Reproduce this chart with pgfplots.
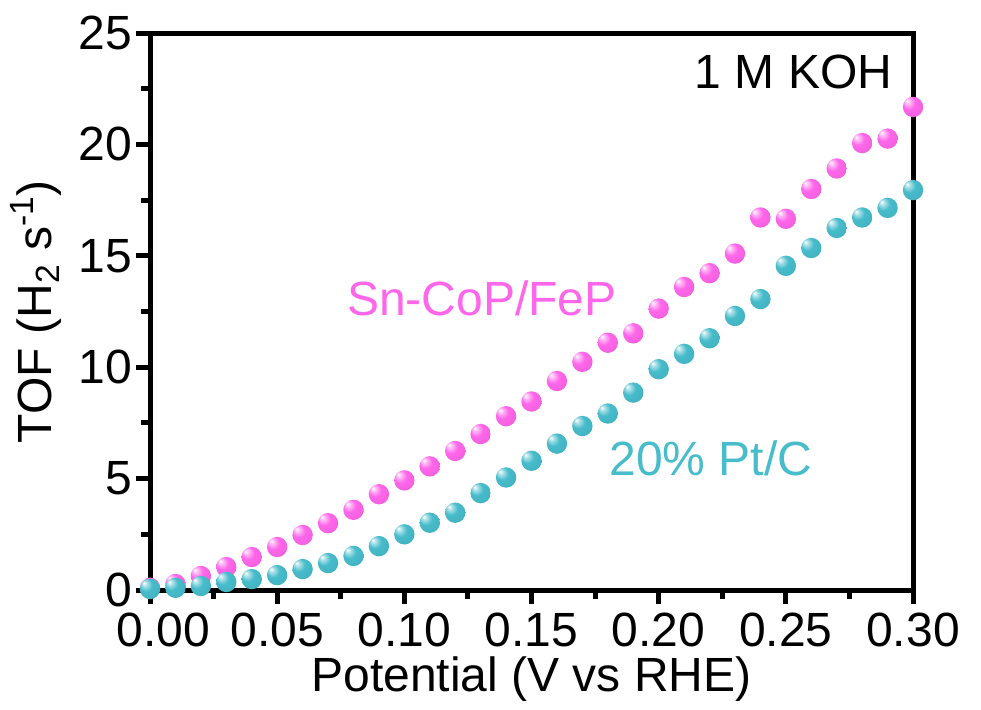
\documentclass[border=0pt]{standalone}
\usepackage{pgfplots}
\pgfplotsset{compat=1.18}
\usepackage{fontspec}
\setmainfont{Liberation Sans}
\definecolor{cmag}{HTML}{FF66EA}
\definecolor{ccyan}{HTML}{47BCCB}
\pgfdeclareradialshading{ballmag}{\pgfqpoint{-15bp}{15bp}}{color(0bp)=(white); color(6bp)=(cmag!45!white); color(16bp)=(cmag); color(40bp)=(cmag!92!black); color(50bp)=(cmag!85!black)}
\pgfdeclareradialshading{ballcyan}{\pgfqpoint{-15bp}{15bp}}{color(0bp)=(white); color(6bp)=(ccyan!45!white); color(16bp)=(ccyan); color(40bp)=(ccyan!92!black); color(50bp)=(ccyan!85!black)}
\pgfdeclareplotmark{bmag}{\pgfpathcircle{\pgfpointorigin}{\pgfplotmarksize}\pgfshadepath{ballmag}{0}\pgfusepath{discard}}
\pgfdeclareplotmark{bcyan}{\pgfpathcircle{\pgfpointorigin}{\pgfplotmarksize}\pgfshadepath{ballcyan}{0}\pgfusepath{discard}}
\begin{document}
\begin{tikzpicture}
\begin{axis}[
  name=ax,
  scale only axis,
  width=381.5pt, height=278.5pt,
  xmin=0, xmax=0.30, ymin=0, ymax=25,
  xtick={0,0.05,0.10,0.15,0.20,0.25,0.30}, ytick={0,5,...,25},
  xticklabels={\hphantom{0}0.00, 0.05, 0.10, 0.15, 0.20, 0.25, 0.30},
  minor tick num=1,
  xtick pos=bottom, ytick pos=left,
  tick align=outside,
  major tick length=5.5pt, minor tick length=3pt,
  axis line style={line width=2.5pt},
  every tick/.style={line width=2.5pt, black},
  line cap=rect,
  clip=false,
  font=\fontsize{24}{28}\selectfont,
  tick label style={font=\fontsize{24}{28}\selectfont},
  /pgf/number format/assume math mode=true,
  xticklabel style={yshift=-2.5pt},
  yticklabel style={/pgf/number format/.cd, fixed},
  xlabel={Potential (V vs RHE)},
  ylabel={TOF (H\textsubscript{2} s\textsuperscript{-1})},
  ylabel style={at={(axis description cs:-0.149,0.5)}, anchor=center},
  xlabel style={at={(axis description cs:0.5,0)}, anchor=north, yshift=-30pt},
]
\addplot[only marks, mark=bmag, mark size=5.1pt] coordinates {
(0.00,0.10) (0.01,0.27) (0.02,0.63) (0.03,1.03) (0.04,1.48) (0.05,1.93)
(0.06,2.47) (0.07,3.00) (0.08,3.60) (0.09,4.30) (0.10,4.92) (0.11,5.55)
(0.12,6.24) (0.13,7.00) (0.14,7.80) (0.15,8.46) (0.16,9.38) (0.17,10.24)
(0.18,11.10) (0.19,11.52) (0.20,12.63) (0.21,13.60) (0.22,14.22) (0.23,15.10)
(0.24,16.72) (0.25,16.66) (0.26,18.00) (0.27,18.92) (0.28,20.06) (0.29,20.26)
(0.30,21.68)
};
\addplot[only marks, mark=bcyan, mark size=5.1pt] coordinates {
(0.00,0.05) (0.01,0.10) (0.02,0.18) (0.03,0.36) (0.04,0.49) (0.05,0.67)
(0.06,0.94) (0.07,1.21) (0.08,1.53) (0.09,1.97) (0.10,2.50) (0.11,3.02)
(0.12,3.47) (0.13,4.35) (0.14,5.05) (0.15,5.80) (0.16,6.57) (0.17,7.36)
(0.18,7.92) (0.19,8.86) (0.20,9.91) (0.21,10.60) (0.22,11.30) (0.23,12.30)
(0.24,13.06) (0.25,14.55) (0.26,15.35) (0.27,16.25) (0.28,16.72) (0.29,17.15)
(0.30,17.95)
};
\node[text=cmag, anchor=center, font=\fontsize{24}{28}\selectfont] at (axis cs:0.1305,13.1) {Sn-CoP/FeP};
\node[text=ccyan, anchor=center, font=\fontsize{24}{28}\selectfont] at (axis cs:0.2205,5.92) {20\% Pt/C};
\node[text=black, anchor=east, font=\fontsize{24}{28}\selectfont, inner sep=0pt] at (axis cs:0.292,23.25) {1 M KOH};
\end{axis}
\pgfresetboundingbox
\useasboundingbox ([xshift=-75pt, yshift=-59.5pt]ax.south west) rectangle ([xshift=34pt, yshift=16.5pt]ax.north east);
\end{tikzpicture}
\end{document}
